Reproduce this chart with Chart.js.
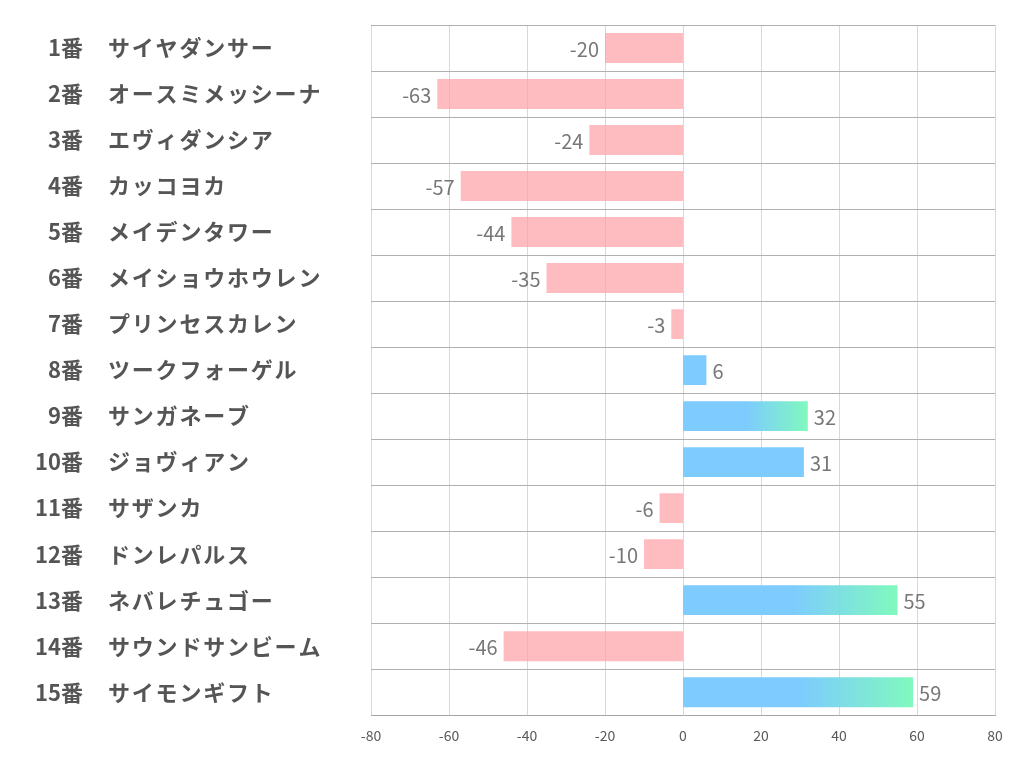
<!DOCTYPE html>
<html>
<head>
<meta charset="utf-8">
<script src="https://cdn.jsdelivr.net/npm/chart.js@4"></script>
<style>
  body { margin: 0; background: #fff; }
</style>
</head>
<body>
<canvas id="chart" width="1022" height="782"></canvas>
<script>
// 馬番と馬名
const numbers = ["1番","2番","3番","4番","5番","6番","7番","8番","9番","10番","11番","12番","13番","14番","15番"];
const names = ["サイヤダンサー","オースミメッシーナ","エヴィダンシア","カッコヨカ","メイデンタワー","メイショウホウレン","プリンセスカレン","ツークフォーゲル","サンガネーブ","ジョヴィアン","サザンカ","ドンレパルス","ネバレチュゴー","サウンドサンビーム","サイモンギフト"];
const values = [-20, -63, -24, -57, -44, -35, -3, 6, 32, 31, -6, -10, 55, -46, 59];
const xTicks = [-80, -60, -40, -20, 0, 20, 40, 60, 80];

const PINK = "#FFBCC0";
const BLUE = "#7DCBFF";
const GREEN = "#80F9BE";
const FONT = "'Noto Sans CJK JP', 'Noto Sans', sans-serif";

// 上位3頭はグラデーション
const top3 = [...values].sort((a, b) => b - a).slice(0, 3);

function barColor(ctx) {
    const v = values[ctx.dataIndex];
    if (v < 0) return PINK;
    if (!top3.includes(v)) return BLUE;
    const chart = ctx.chart;
    if (!chart.chartArea) return BLUE;
    const xs = chart.scales.x;
    const x0 = xs.getPixelForValue(0);
    const x1 = xs.getPixelForValue(v);
    const g = chart.ctx.createLinearGradient(x0, 0, x1, 0);
    g.addColorStop(0, BLUE);
    g.addColorStop(0.5, BLUE);
    g.addColorStop(1, GREEN);
    return g;
}

// 行の区切り線 + 縦グリッド(棒の上に描く)
const gridPlugin = {
    id: "gridPlugin",
    afterDatasetsDraw(chart) {
        const ctx = chart.ctx;
        const xs = chart.scales.x;
        const ys = chart.scales.y;
        const area = chart.chartArea;
        const half = (ys.getPixelForValue(1) - ys.getPixelForValue(0)) / 2;
        ctx.save();
        ctx.lineWidth = 1;
        ctx.strokeStyle = "rgba(190,190,190,0.6)";
        xTicks.forEach(v => {
            const x = Math.round(xs.getPixelForValue(v)) + 0.5;
            ctx.beginPath();
            ctx.moveTo(x, area.top);
            ctx.lineTo(x, area.bottom);
            ctx.stroke();
        });
        ctx.strokeStyle = "#B0B0B0";
        for (let i = 0; i < names.length; i++) {
            const y = Math.round(ys.getPixelForValue(i) - half) + 0.5;
            ctx.beginPath();
            ctx.moveTo(area.left, y);
            ctx.lineTo(area.right, y);
            ctx.stroke();
        }
        ctx.restore();
    }
};

// 左側ラベルと値ラベル
const labelPlugin = {
    id: "labelPlugin",
    afterDatasetsDraw(chart) {
        const ctx = chart.ctx;
        const xs = chart.scales.x;
        const ys = chart.scales.y;
        ctx.save();
        ctx.textBaseline = "middle";
        numbers.forEach((n, i) => {
            const y = ys.getPixelForValue(i);
            ctx.font = "bold 22px " + FONT;
            ctx.fillStyle = "#555";
            ctx.letterSpacing = "0px";
            ctx.textAlign = "right";
            ctx.fillText(n, 83, y);
            ctx.letterSpacing = "1.8px";
            ctx.textAlign = "left";
            ctx.fillText(names[i], 108, y);
            ctx.letterSpacing = "0px";

            const v = values[i];
            const xe = xs.getPixelForValue(v);
            ctx.font = "20px " + FONT;
            ctx.fillStyle = "#777";
            if (v < 0) {
                ctx.textAlign = "right";
                ctx.fillText(String(v), xe - 6, y + 1);
            } else {
                ctx.textAlign = "left";
                ctx.fillText(String(v), xe + 6, y + 1);
            }
        });
        ctx.restore();
    }
};

new Chart(document.getElementById("chart"), {
    type: "bar",
    data: {
        labels: names,
        datasets: [{
            data: values,
            backgroundColor: barColor,
            categoryPercentage: 1,
            barPercentage: 0.65
        }]
    },
    options: {
        indexAxis: "y",
        responsive: false,
        animation: false,
        layout: { padding: { left: 363, top: 25, right: 27, bottom: 26 } },
        plugins: {
            legend: { display: false },
            tooltip: { enabled: false }
        },
        scales: {
            x: {
                min: -80,
                max: 80,
                afterBuildTicks: (scale) => { scale.ticks = xTicks.map(v => ({ value: v })); },
                grid: { display: false, drawTicks: false },
                border: { display: true, color: "#A6A6A6" },
                ticks: { color: "#595959", padding: 12, font: { size: 14, family: FONT } }
            },
            y: {
                grid: { display: false },
                border: { display: false },
                ticks: { display: false }
            }
        }
    },
    plugins: [gridPlugin, labelPlugin]
});
</script>
</body>
</html>
